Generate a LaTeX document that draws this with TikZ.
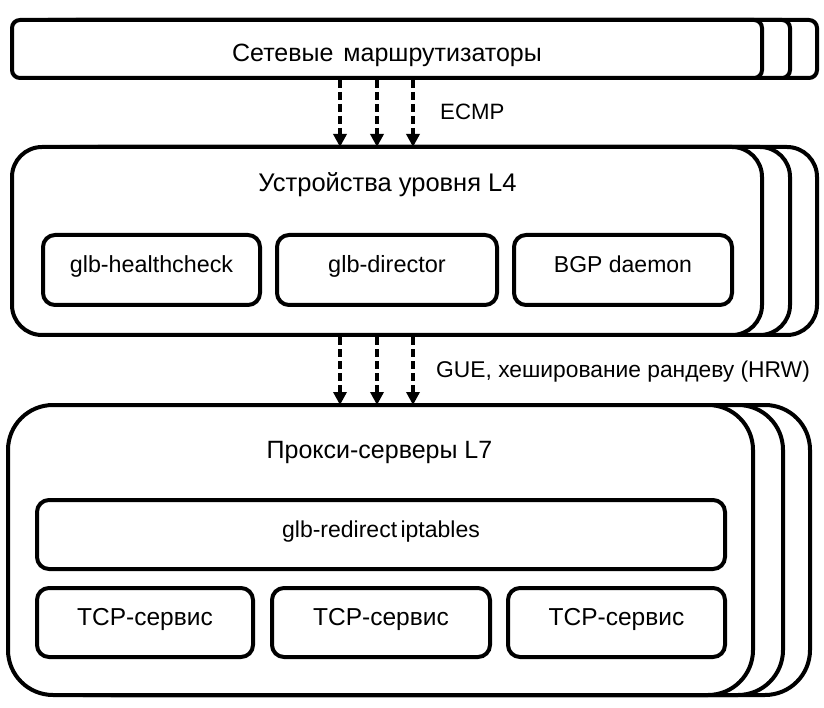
\documentclass[tikz,border=0pt]{standalone}
\usepackage{fontspec}
\setmainfont{Liberation Sans}
\usetikzlibrary{arrows.meta}
\begin{document}
\begin{tikzpicture}[x=1pt,y=-1pt,
  box/.style={draw=black,line width=4pt,fill=white,inner sep=0pt,outer sep=0pt},
  rbox/.style={box,rounded corners=8pt,minimum height=58pt},
  lfour/.style={box,rounded corners=30pt,minimum height=188pt},
  lseven/.style={box,rounded corners=45pt,minimum height=290pt},
  inbox/.style={box,rounded corners=12pt,minimum height=70pt,text height=0.72em,text depth=0.21em},
  fs/.style={font=\fontsize{#1pt}{#1pt}\selectfont},
  ttl/.style={fs=25,inner sep=0pt,anchor=base},
  lbl/.style={inner sep=0pt,anchor=base west},
  arr/.style={line width=3.5pt,dash pattern=on 8pt off 4pt,-{Triangle[width=13pt,length=13pt]}}
]
\useasboundingbox (0,0) rectangle (824,708);
% routers
\node[rbox,minimum width=749pt] (r3) at (442.5,49) {};
\node[rbox,minimum width=750pt] (r2) at (415,49) {};
\node[rbox,minimum width=750pt] (r) at (387,49) {};
\node[ttl] (rt) at (387,62) {Сетевые\hspace{3pt} маршрутизаторы};
% L4
\node[lfour,minimum width=749pt] (l4c) at (442.5,241) {};
\node[lfour,minimum width=750pt] (l4b) at (415,241) {};
\node[lfour,minimum width=750pt] (l4) at (387,241) {};
\node[ttl,fs=25.5] (l4t) at (387.5,192) {Устройства уровня L4};
\node[inbox,minimum width=217pt,fs=23.3] (hc) at (151.5,270) {glb-healthcheck};
\node[inbox,minimum width=220pt,fs=23.5] (dir) at (387,270) {glb-director};
\node[inbox,minimum width=218pt,fs=23] (bgp) at (623,270) {BGP daemon};
% L7
\node[lseven,minimum width=744pt] (l7c) at (438,550) {};
\node[lseven,minimum width=745pt] (l7b) at (410.5,550) {};
\node[lseven,minimum width=745pt] (l7) at (380.5,550) {};
\node[ttl] (l7t) at (379.5,458) {Прокси-серверы L7};
\node[inbox,minimum width=688pt,minimum height=69pt,fs=23,yshift=-2pt] (red) at (381,532.5) {glb-redirect\hspace{-3pt} iptables};
\node[inbox,minimum width=216pt,minimum height=69pt,fs=24.5] (t1) at (145,622.5) {TCP-сервис};
\node[inbox,minimum width=218pt,minimum height=69pt,fs=24.5] (t2) at (381,622.5) {TCP-сервис};
\node[inbox,minimum width=217pt,minimum height=69pt,fs=24.5] (t3) at (616.5,622.5) {TCP-сервис};
% arrows
\foreach \dx in {-47,-10,26}{
  \draw[arr] ([xshift=\dx pt,yshift=-2pt]r.south) -- ([xshift=\dx pt]r.south |- l4.north);
  \draw[arr] ([xshift=\dx pt,yshift=-2pt]l4.south) -- ([xshift=\dx pt]l4.south |- l7.north);
}
\node[lbl,fs=22.2] (ecmp) at (440,120) {ECMP};
\node[lbl,fs=22.8] (gue) at (436,377) {GUE, хеширование рандеву (HRW)};
\end{tikzpicture}
\end{document}
